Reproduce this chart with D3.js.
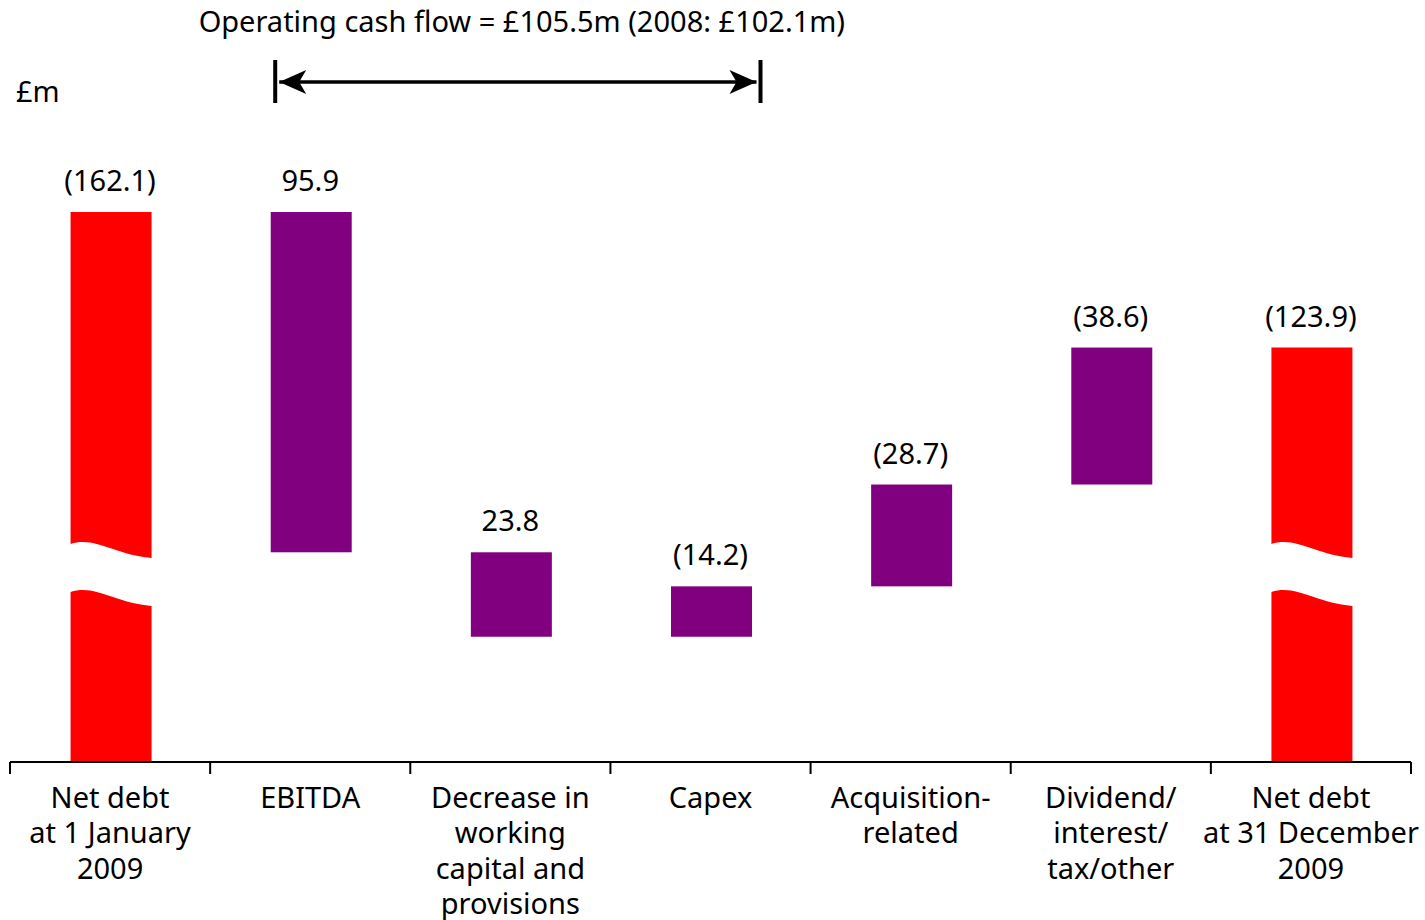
<!DOCTYPE html>
<html>
<head>
<meta charset="utf-8">
<script src="https://cdn.jsdelivr.net/npm/d3@7"></script>
<style>
  html, body { margin: 0; padding: 0; background: #fff; }
  svg { display: block; font-family: "Noto Sans", "Open Sans", sans-serif; }
</style>
</head>
<body>
<svg id="chart" width="1425" height="920"></svg>
<script>
// Net debt bridge, 2009 (£m)
const categories = ["start", "ebitda", "workingCapital", "capex", "acquisition", "dividend", "end"];
const categoryLabels = [
  ["Net debt", "at 1 January", "2009"],
  ["EBITDA"],
  ["Decrease in", "working", "capital and", "provisions"],
  ["Capex"],
  ["Acquisition-", "related"],
  ["Dividend/", "interest/", "tax/other"],
  ["Net debt", "at 31 December", "2009"]
];
const openingDebt = 162.1;
const closingDebt = 123.9;
// cash movements: positive reduces net debt, negative increases it
const cashMovements = [95.9, 23.8, -14.2, -28.7, -38.6];
const titleText = "Operating cash flow = £105.5m (2008: £102.1m)";
const unitLabel = "£m";

const svg = d3.select("#chart");
const fontSize = 29;

// Build waterfall segments from the data
const segments = [];
segments.push({ key: categories[0], lo: null, hi: openingDebt, label: `(${openingDebt.toFixed(1)})`, type: "debt" });
let running = openingDebt;
cashMovements.forEach((v, i) => {
  const next = running - v;
  segments.push({
    key: categories[i + 1],
    lo: Math.min(running, next),
    hi: Math.max(running, next),
    label: v >= 0 ? v.toFixed(1) : `(${Math.abs(v).toFixed(1)})`,
    type: "move"
  });
  running = next;
});
segments.push({ key: categories[6], lo: null, hi: closingDebt, label: `(${closingDebt.toFixed(1)})`, type: "debt" });

// Scales
const baseY = 762;
const x = d3.scaleBand().domain(categories).range([10, 1411]).paddingInner(0).paddingOuter(0);
const y = d3.scaleLinear().domain([7.1, 162.1]).range([baseY, 212]);
const barW = 81;
const cx = k => x(k) + x.bandwidth() / 2;

// Bars
const g = svg.append("g");
const breakTop = 543, breakGap = 48;

segments.forEach(s => {
  const x0 = cx(s.key) - barW / 2 + 1, x1 = x0 + barW;
  if (s.type === "move") {
    g.append("rect")
      .attr("x", x0).attr("y", y(s.hi))
      .attr("width", barW).attr("height", y(s.lo) - y(s.hi))
      .attr("fill", "#800080");
  } else {
    const top = y(s.hi);
    // wavy break edge
    const wave = (yb) => `C${x0 + barW * 0.3},${yb - 7} ${x0 + barW * 0.55},${yb + 12} ${x1},${yb + 15}`;
    const upper = `M${x0},${top} L${x1},${top} L${x1},${breakTop + 15} ` +
      `C${x0 + barW * 0.55},${breakTop + 12} ${x0 + barW * 0.3},${breakTop - 7} ${x0},${breakTop + 1} Z`;
    const lb = breakTop + breakGap;
    const lower = `M${x0},${lb + 1} ${wave(lb)} L${x1},${baseY} L${x0},${baseY} Z`;
    g.append("path").attr("d", upper).attr("fill", "#ff0000");
    g.append("path").attr("d", lower).attr("fill", "#ff0000");
  }
  g.append("text")
    .attr("x", cx(s.key)).attr("y", y(s.hi) - 21)
    .attr("text-anchor", "middle")
    .attr("font-size", fontSize)
    .attr("fill", "#000")
    .text(s.label);
});

// Category axis with ticks at band boundaries
const axis = svg.append("g");
axis.append("line")
  .attr("x1", x.range()[0]).attr("x2", x.range()[1])
  .attr("y1", baseY).attr("y2", baseY)
  .attr("stroke", "#000").attr("stroke-width", 2);
const boundaries = categories.map(c => x(c)).concat([x.range()[1]]);
axis.selectAll(".tick").data(boundaries).join("line")
  .attr("x1", d => d).attr("x2", d => d)
  .attr("y1", baseY).attr("y2", baseY + 12)
  .attr("stroke", "#000").attr("stroke-width", 2);

categories.forEach((c, i) => {
  const t = axis.append("text")
    .attr("x", cx(c)).attr("y", 808)
    .attr("text-anchor", "middle")
    .attr("font-size", fontSize)
    .attr("fill", "#000");
  categoryLabels[i].forEach((line, j) => {
    t.append("tspan").attr("x", cx(c)).attr("dy", j === 0 ? 0 : 35.3).text(line);
  });
});

// Operating cash flow bracket
const arrowY = 82;
const ax0 = cx("ebitda") - 35, ax1 = cx("capex") + 50;
const ann = svg.append("g");
ann.append("line").attr("x1", ax0 + 4).attr("x2", ax1 - 4).attr("y1", arrowY).attr("y2", arrowY)
  .attr("stroke", "#000").attr("stroke-width", 3.5);
[ax0, ax1].forEach(xx => {
  ann.append("line").attr("x1", xx).attr("x2", xx).attr("y1", 60).attr("y2", 103)
    .attr("stroke", "#000").attr("stroke-width", 4);
});
const head = (tip, dir) => {
  const L = 27, H = 12, notch = 20;
  return `M${tip},${arrowY} L${tip + dir * L},${arrowY - H} L${tip + dir * notch},${arrowY} L${tip + dir * L},${arrowY + H} Z`;
};
ann.append("path").attr("d", head(ax0 + 4, 1)).attr("fill", "#000");
ann.append("path").attr("d", head(ax1 - 4, -1)).attr("fill", "#000");

svg.append("text")
  .attr("x", (ax0 + ax1) / 2 + 4).attr("y", 32)
  .attr("text-anchor", "middle")
  .attr("font-size", fontSize)
  .attr("fill", "#000")
  .text(titleText);

svg.append("text")
  .attr("x", 16).attr("y", 102)
  .attr("font-size", fontSize)
  .attr("fill", "#000")
  .text(unitLabel);
</script>
</body>
</html>
